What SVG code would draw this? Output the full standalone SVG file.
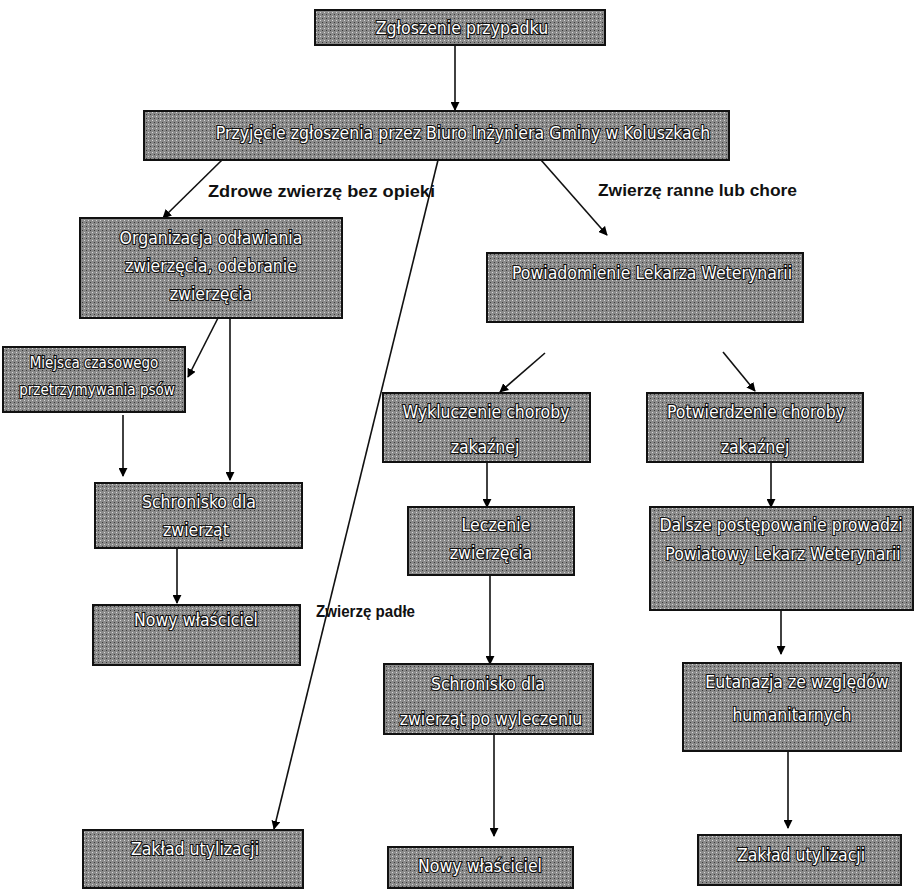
<svg xmlns="http://www.w3.org/2000/svg" width="914" height="892" viewBox="0 0 914 892">
<defs>
<marker id="ah" viewBox="0 0 10 10" refX="9" refY="5" markerWidth="9" markerHeight="9" markerUnits="userSpaceOnUse" orient="auto">
<path d="M0,0 L10,5 L0,10 z" fill="#000"/>
</marker>
<pattern id="ht" width="4" height="4" patternUnits="userSpaceOnUse">
<rect width="4" height="4" fill="#8a8a8a"/>
<rect x="0" y="0" width="1" height="1" fill="#d8d8d8"/>
<rect x="2" y="2" width="1" height="1" fill="#3a3a3a"/>
</pattern>
</defs>
<style>
.box{fill:url(#ht);stroke:#111;stroke-width:2}
.t{font-family:"DejaVu Sans Condensed","DejaVu Sans",sans-serif;font-size:17.5px;fill:#fff;stroke:#111;stroke-width:2.2;paint-order:stroke;text-anchor:middle;dominant-baseline:central}
.s{font-size:15px}
.lbl{font-family:"Liberation Sans",Arial,sans-serif;font-weight:bold;font-size:16px;fill:#111}
.c{fill:none;stroke:#111;stroke-width:1.6;marker-end:url(#ah)}
</style>
<rect width="914" height="892" fill="#fff"/>
<g id="connectors">
<line class="c" x1="455" y1="45" x2="455" y2="110"/>
<line class="c" x1="222" y1="160" x2="163" y2="218"/>
<line class="c" x1="541" y1="160" x2="607" y2="235"/>
<line class="c" x1="438" y1="160" x2="274" y2="829"/>
<line class="c" x1="218" y1="318" x2="188" y2="377"/>
<line class="c" x1="230" y1="318" x2="230" y2="480"/>
<line class="c" x1="123" y1="415" x2="123" y2="476"/>
<line class="c" x1="177" y1="548" x2="177" y2="603"/>
<line class="c" x1="545" y1="353" x2="500" y2="392"/>
<line class="c" x1="723" y1="352" x2="755" y2="391"/>
<line class="c" x1="487" y1="462" x2="487" y2="507"/>
<line class="c" x1="771" y1="462" x2="771" y2="507"/>
<line class="c" x1="490" y1="575" x2="490" y2="664"/>
<line class="c" x1="781" y1="610" x2="781" y2="654"/>
<line class="c" x1="494" y1="734" x2="494" y2="836"/>
<line class="c" x1="788" y1="751" x2="788" y2="828"/>
</g>
<g id="labels">
<text class="lbl" x="208" y="197" textLength="227" lengthAdjust="spacingAndGlyphs">Zdrowe zwierzę bez opieki</text>
<text class="lbl" x="598" y="196" textLength="199" lengthAdjust="spacingAndGlyphs">Zwierzę ranne lub chore</text>
<text class="lbl" x="316" y="617" textLength="99" lengthAdjust="spacingAndGlyphs">Zwierzę padłe</text>
</g>
<g id="n1"><rect class="box" x="315" y="10" width="290" height="35"/><text class="t" x="462" y="28">Zgłoszenie przypadku</text></g>
<g id="n2"><rect class="box" x="144" y="111" width="585" height="49"/><text class="t" x="463" y="133">Przyjęcie zgłoszenia przez Biuro Inżyniera Gminy w Koluszkach</text></g>
<g id="n3"><rect class="box" x="80" y="218" width="262" height="100"/><text class="t" x="211" y="238">Organizacja odławiania</text><text class="t" x="211" y="266">zwierzęcia, odebranie</text><text class="t" x="211" y="294">zwierzęcia</text></g>
<g id="n4"><rect class="box" x="487" y="253" width="316" height="69"/><text class="t" x="652" y="273">Powiadomienie Lekarza Weterynarii</text></g>
<g id="n5"><rect class="box" x="3" y="347" width="182" height="65"/><text class="t s" x="94" y="363">Miejsca czasowego</text><text class="t s" x="97" y="390">przetrzymywania psów</text></g>
<g id="n6"><rect class="box" x="95" y="483" width="207" height="65"/><text class="t" x="199" y="502">Schronisko dla</text><text class="t" x="196" y="530">zwierząt</text></g>
<g id="n7"><rect class="box" x="93" y="605" width="207" height="60"/><text class="t" x="196" y="620">Nowy właściciel</text></g>
<g id="n8"><rect class="box" x="383" y="393" width="207" height="69"/><text class="t" x="486" y="412">Wykluczenie choroby</text><text class="t" x="485" y="447">zakaźnej</text></g>
<g id="n9"><rect class="box" x="647" y="393" width="216" height="69"/><text class="t" x="756" y="412">Potwierdzenie choroby</text><text class="t" x="755" y="447">zakaźnej</text></g>
<g id="n10"><rect class="box" x="408" y="507" width="166" height="68"/><text class="t" x="496" y="525">Leczenie</text><text class="t" x="491" y="553">zwierzęcia</text></g>
<g id="n11"><rect class="box" x="650" y="507" width="263" height="103"/><text class="t" x="781" y="525">Dalsze postępowanie prowadzi</text><text class="t" x="783" y="554">Powiatowy Lekarz Weterynarii</text></g>
<g id="n12"><rect class="box" x="384" y="664" width="209" height="70"/><text class="t" x="488" y="684">Schronisko dla</text><text class="t" x="491" y="719">zwierząt po wyleczeniu</text></g>
<g id="n13"><rect class="box" x="683" y="663" width="218" height="88"/><text class="t" x="797" y="682">Eutanazja ze względów</text><text class="t" x="792" y="715">humanitarnych</text></g>
<g id="n14"><rect class="box" x="83" y="830" width="220" height="58"/><text class="t" x="195" y="849">Zakład utylizacji</text></g>
<g id="n15"><rect class="box" x="388" y="847" width="185" height="41"/><text class="t" x="480" y="866">Nowy właściciel</text></g>
<g id="n16"><rect class="box" x="698" y="835" width="203" height="50"/><text class="t" x="801" y="855">Zakład utylizacji</text></g>
</svg>
